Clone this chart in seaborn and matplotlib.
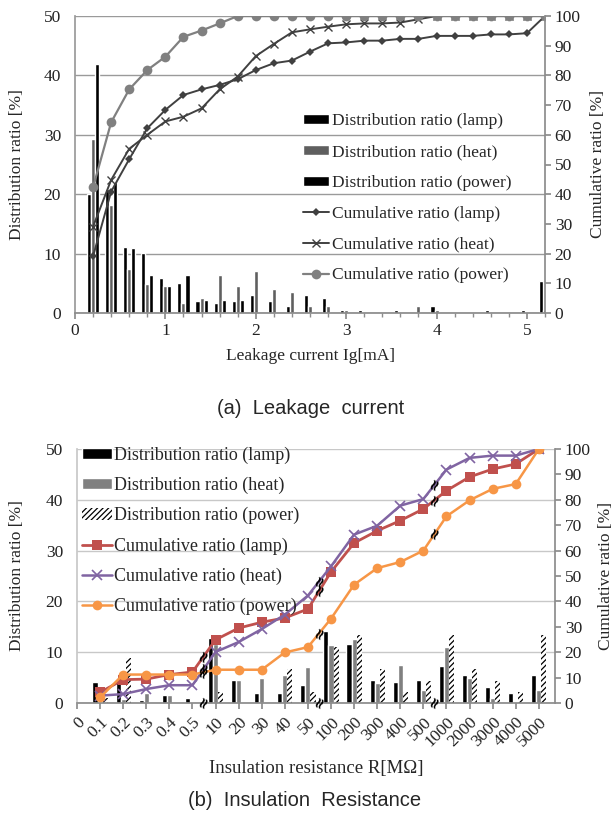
import numpy as np
import matplotlib
matplotlib.use("Agg")
import matplotlib.pyplot as plt
import seaborn as sns

# ---------------- data: (a) leakage current ----------------
leak_x = [0.2, 0.4, 0.6, 0.8, 1.0, 1.2, 1.4, 1.6, 1.8, 2.0, 2.2, 2.4, 2.6,
          2.8, 3.0, 3.2, 3.4, 3.6, 3.8, 4.0, 4.2, 4.4, 4.6, 4.8, 5.0, 5.2]
leak_lamp_dist = [20.0, 20.9, 11.1, 10.1, 5.9, 5.0, 2.1, 1.6, 2.1, 3.1, 2.1, 1.1, 3.1,
                  2.6, 0.5, 0.5, 0.0, 0.5, 0.0, 1.1, 0.0, 0.0, 0.5, 0.0, 0.5, 5.4]
leak_heat_dist = [29.3, 18.1, 7.4, 4.9, 4.6, 1.6, 2.5, 6.4, 4.6, 7.0, 4.1, 3.6, 1.1,
                  1.1, 0.5, 0.0, 0.0, 0.0, 1.1, 0.5, 0.0, 0.0, 0.0, 0.0, 0.0, 0.5]
leak_power_dist = [42.0, 22.0, 11.0, 6.4, 4.5, 6.4, 2.2, 2.2, 2.2, 0.0, 0.0, 0.0, 0.0,
                   0.0, 0.0, 0.0, 0.0, 0.0, 0.0, 0.0, 0.0, 0.0, 0.0, 0.0, 0.0, 0.0]
leak_lamp_cum = [19.1, 40.9, 51.8, 62.2, 68.4, 73.4, 75.3, 76.8, 78.7, 81.8, 84.1, 85.0, 88.0,
                 90.8, 91.1, 91.7, 91.7, 92.3, 92.3, 93.3, 93.3, 93.3, 93.8, 93.8, 94.2, 100.0]
leak_heat_cum = [29.1, 44.8, 55.3, 60.0, 64.5, 66.1, 68.9, 75.3, 79.6, 86.5, 90.6, 94.5, 95.5,
                 96.4, 97.2, 97.5, 97.5, 97.8, 98.9, 100.0, 100.0, 100.0, 100.0, 100.0, 100.0, 100.0]
leak_power_cum = [42.3, 64.2, 75.3, 81.8, 86.3, 93.0, 95.1, 97.5, 100.0, 100.0, 100.0, 100.0, 100.0,
                  100.0, 100.0, 100.0, 100.0, 100.0, 100.0, 100.0, 100.0, 100.0, 100.0, 100.0, 100.0, 100.0]

# ---------------- data: (b) insulation resistance ----------------
ins_labels = ["0", "0.1", "0.2", "0.3", "0.4", "0.5", "10", "20", "30", "40", "50",
              "100", "200", "300", "400", "500", "1000", "2000", "3000", "4000", "5000"]
# values for categories "0.1" ... "5000"
ins_lamp_dist = [4.1, 5.0, 0.5, 1.5, 1.0, 12.7, 4.6, 2.0, 2.0, 3.5,
                 14.2, 11.6, 4.6, 4.1, 4.6, 7.2, 5.6, 3.1, 2.0, 5.6]
ins_heat_dist = [0.0, 0.7, 2.0, 1.5, 0.0, 11.6, 4.5, 5.0, 5.5, 7.1,
                 11.5, 12.6, 3.9, 7.5, 2.5, 11.0, 5.0, 1.0, 0.0, 2.5]
ins_power_dist = [1.0, 8.9, 0.0, 0.0, 0.0, 2.1, 0.0, 0.0, 6.6, 2.1,
                  11.1, 13.3, 6.7, 2.1, 4.3, 13.3, 6.7, 4.3, 2.1, 13.3]
ins_lamp_cum = [4.2, 9.2, 9.4, 11.2, 12.2, 24.9, 29.5, 31.8, 33.5, 37.0,
                51.6, 63.0, 67.8, 71.8, 76.4, 83.6, 89.0, 92.1, 94.1, 100.0]
ins_heat_cum = [2.9, 3.5, 5.5, 7.0, 7.0, 20.1, 24.0, 29.1, 34.8, 42.3,
                53.8, 66.3, 69.8, 77.7, 80.3, 91.9, 96.5, 97.4, 97.4, 100.0]
ins_power_cum = [2.2, 11.2, 11.2, 11.2, 11.2, 13.1, 13.1, 13.1, 19.9, 22.0,
                 33.2, 46.6, 53.1, 55.5, 60.0, 73.5, 79.8, 84.3, 86.2, 100.0]
# scale breaks after these categories (between "0.5"-"10", "50"-"100", "500"-"1000")
ins_break_after = ["0.5", "50", "500"]

sns.set_theme(style="white")
SERIF = ["Liberation Serif", "DejaVu Serif"]
SANS = ["Liberation Sans Narrow", "Liberation Sans", "DejaVu Sans"]
plt.rcParams["font.family"] = SERIF
plt.rcParams["hatch.linewidth"] = 0.9

fig = plt.figure(figsize=(6.14, 8.26), dpi=100)
W, H = 614.0, 826.0


def px_axes(l, t, r, b):
    return fig.add_axes([l / W, 1 - b / H, (r - l) / W, (b - t) / H])


def style_axes(ax, ax2, gridc):
    ax.spines["top"].set_visible(False)
    ax2.spines["top"].set_visible(False)
    ax.spines["left"].set_color(gridc)
    ax.spines["bottom"].set_color("#8c8c8c")
    ax2.spines["right"].set_color("#8c8c8c")
    ax2.spines["left"].set_visible(False)
    ax2.spines["bottom"].set_visible(False)
    ax.spines["right"].set_visible(False)
    ax.yaxis.grid(True, color=gridc, linewidth=1.0)
    ax.xaxis.grid(False)
    ax2.grid(False)
    ax.set_axisbelow(True)
    ax.tick_params(axis="y", left=False, labelsize=12.5, colors="#222222", pad=4)
    ax2.tick_params(axis="y", right=True, length=4, color="#8c8c8c", labelsize=12.5,
                    colors="#222222", pad=3)


# ================= (a) =================
ax = px_axes(75, 16, 545, 313)
ax2 = ax.twinx()
bw = 0.045
xa = np.array(leak_x)
ax.bar(xa - bw, leak_lamp_dist, width=bw, color="black", label="Distribution ratio (lamp)", zorder=2)
ax.bar(xa, leak_heat_dist, width=bw, color="#5f5f5f", label="Distribution ratio (heat)", zorder=2)
ax.bar(xa + bw, leak_power_dist, width=bw, color="black", label="Distribution ratio (power)", zorder=2)

sns.lineplot(x=leak_x, y=leak_lamp_cum, ax=ax2, color="#404040", marker="D", markersize=4,
             markeredgewidth=0, markeredgecolor="#404040", linewidth=1.4,
             label="Cumulative ratio (lamp)")
sns.lineplot(x=leak_x, y=leak_heat_cum, ax=ax2, color="#404040", marker="x", markersize=6,
             markeredgewidth=1.0, markeredgecolor="#404040", linewidth=1.4,
             label="Cumulative ratio (heat)")
sns.lineplot(x=leak_x, y=leak_power_cum, ax=ax2, color="#808080", marker="o", markersize=7,
             markeredgewidth=0, markeredgecolor="#808080", linewidth=1.6,
             label="Cumulative ratio (power)")

ax.set_xlim(0, 5.2)
ax.set_ylim(0, 50)
ax2.set_ylim(0, 100)
ax.set_yticks([0, 10, 20, 30, 40, 50])
ax2.set_yticks(list(range(0, 101, 10)))
ax.set_xticks([0, 1, 2, 3, 4, 5])
ax.set_xticks(np.arange(0, 5.21, 0.2), minor=True)
ax.tick_params(axis="x", which="both", bottom=True, direction="out", color="#8c8c8c",
               labelsize=12.5, colors="#222222")
ax.tick_params(axis="x", which="major", length=4)
ax.tick_params(axis="x", which="minor", length=3)
style_axes(ax, ax2, "#9a9a9a")
ax.set_ylabel("Distribution ratio [%]", fontsize=12.5)
ax.yaxis.set_label_coords(-0.107, 0.5)
ax2.set_ylabel("Cumulative ratio [%]", fontsize=12.5)
ax2.yaxis.set_label_coords(1.096, 0.5)
ax.set_xlabel("Leakage current Ig[mA]", fontsize=12.5, labelpad=6)

h1, l1 = ax.get_legend_handles_labels()
h2, l2 = ax2.get_legend_handles_labels()
ax2.legend(h1 + h2, l1 + l2, loc="upper left", bbox_to_anchor=(0.485, 0.672),
           frameon=False, fontsize=12.5, labelspacing=0.85, handlelength=1.5,
           handletextpad=0.15, borderaxespad=0, borderpad=0, handleheight=0.5)

# ================= (b) =================
bx = px_axes(77, 449, 555, 703)
bx2 = bx.twinx()
pos_all = np.arange(len(ins_labels))
pos = pos_all[1:]
bw2 = 0.22
bx.bar(pos - bw2, ins_lamp_dist, width=bw2, color="black", label="Distribution ratio (lamp)", zorder=2)
bx.bar(pos, ins_heat_dist, width=bw2, color="#808080", label="Distribution ratio (heat)", zorder=2)
bx.bar(pos + bw2, ins_power_dist, width=bw2, color="white", edgecolor="black", linewidth=0,
       hatch="//////", label="Distribution ratio (power)", zorder=2)

sns.lineplot(x=pos, y=ins_lamp_cum, ax=bx2, color="#C0504D", marker="s", markersize=7,
             markeredgewidth=0, markeredgecolor="#C0504D", linewidth=2.0,
             label="Cumulative ratio (lamp)")
sns.lineplot(x=pos, y=ins_heat_cum, ax=bx2, color="#8064A2", marker="x", markersize=7,
             markeredgewidth=1.2, markeredgecolor="#8064A2", linewidth=1.8,
             label="Cumulative ratio (heat)")
sns.lineplot(x=pos, y=ins_power_cum, ax=bx2, color="#F79646", marker="o", markersize=7,
             markeredgewidth=0, markeredgecolor="#F79646", linewidth=1.8,
             label="Cumulative ratio (power)")

# break symbols at segment midpoints
for lab in ins_break_after:
    i = ins_labels.index(lab)
    xm = i + 0.5
    for cum in (ins_lamp_cum, ins_heat_cum, ins_power_cum):
        ym = (cum[i - 1] + cum[i]) / 2
        bx2.text(xm, ym, "≈", rotation=65, ha="center", va="center", fontsize=11,
                 fontweight="bold", color="black", family="DejaVu Sans", zorder=5)
    bx2.text(xm, 0.5, "≈", rotation=65, ha="center", va="center", fontsize=11,
             fontweight="bold", color="black", family="DejaVu Sans", zorder=5, clip_on=False)

bx.set_xlim(0, 20.7)
bx.set_ylim(0, 50)
bx2.set_ylim(0, 100)
bx.set_yticks([0, 10, 20, 30, 40, 50])
bx2.set_yticks(list(range(0, 101, 10)))
bx.set_xticks(pos_all)
bx.set_xticklabels(ins_labels, rotation=45, ha="right", rotation_mode="anchor")
bx.tick_params(axis="x", bottom=True, length=4, color="#8c8c8c", labelsize=12.5,
               colors="#222222", pad=4)
style_axes(bx, bx2, "#c8c8c8")
bx.set_ylabel("Distribution ratio [%]", fontsize=12.5)
bx.yaxis.set_label_coords(-0.108, 0.5)
bx2.set_ylabel("Cumulative ratio [%]", fontsize=12.5)
bx2.yaxis.set_label_coords(1.09, 0.5)
bx.set_xlabel("Insulation resistance R[MΩ]", fontsize=13.5)
bx.xaxis.set_label_coords(0.5, -0.225)

h1, l1 = bx.get_legend_handles_labels()
h2, l2 = bx2.get_legend_handles_labels()
bx2.legend(h1 + h2, l1 + l2, loc="upper left", bbox_to_anchor=(0.01, 1.01),
           frameon=False, fontsize=13, labelspacing=0.72, handlelength=1.7,
           handletextpad=0.1, borderaxespad=0, borderpad=0, handleheight=0.6)

# captions
fig.text(311 / W, 1 - 408 / H, "(a)  Leakage  current", ha="center", va="center",
         fontsize=14.5, family=SANS)
fig.text(305 / W, 1 - 800 / H, "(b)  Insulation  Resistance", ha="center", va="center",
         fontsize=14.5, family=SANS)

fig.savefig("out.png", dpi=100)
